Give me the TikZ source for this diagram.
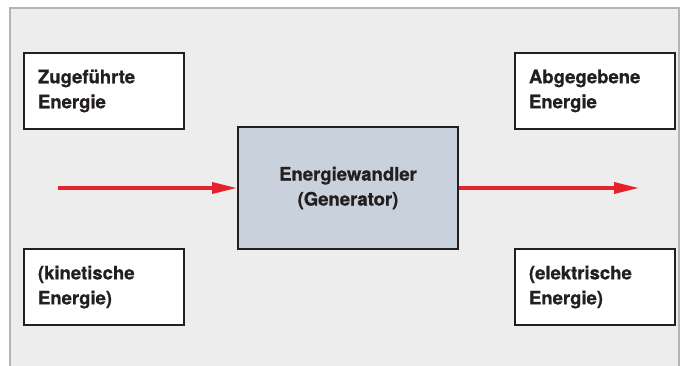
\documentclass[tikz,border=0pt]{standalone}
\usepackage{fontspec}
\setmainfont{TeX Gyre Heros}[BoldFeatures={FakeBold=0.8}]
\usetikzlibrary{arrows.meta}
\definecolor{bgcol}{HTML}{EDEDED}
\definecolor{framecol}{HTML}{B4B4B4}
\definecolor{inkcol}{HTML}{231F20}
\definecolor{boxblue}{HTML}{C9D1DD}
\definecolor{redcol}{HTML}{E4222B}
\tikzset{
  txt/.style={font=\fontsize{18.5}{25}\selectfont\bfseries, text=inkcol},
  sidebox/.style={txt, draw=inkcol, line width=1.8pt, fill=white, minimum width=160pt, minimum height=76pt, text width=132pt, align=left, inner sep=0pt},
  mainbox/.style={txt, draw=inkcol, line width=2pt, fill=boxblue, minimum width=220pt, minimum height=122pt, align=center, inner sep=0pt},
  flow/.style={draw=redcol, line width=3.4pt, -{Triangle[length=25pt,width=11pt]}}
}
\begin{document}
\begin{tikzpicture}[x=1pt,y=-1pt]
\useasboundingbox (0,0) rectangle (689,365);
\fill[white] (0,0) rectangle (689,365);
\draw[framecol, line width=1.3pt, fill=bgcol] (10,372) -- (10,8) -- (679,8) -- (679,372);
\node[sidebox] (zu) at (104,91) {Zugeführte\\Energie};
\node[sidebox] (kin) at (104,287) {(kinetische\\Energie)};
\node[sidebox] (ab) at (595,91) {Abgegebene\\Energie};
\node[sidebox] (el) at (595,287) {(elektrische\\Energie)};
\node[mainbox] (gen) at (348,188) {Energiewandler\\(Generator)};
\coordinate (in) at (58,188);
\coordinate (out) at (639,188);
\draw[flow] (in) -- (gen.west);
\draw[flow] (gen.east) -- (out);
\end{tikzpicture}
\end{document}
